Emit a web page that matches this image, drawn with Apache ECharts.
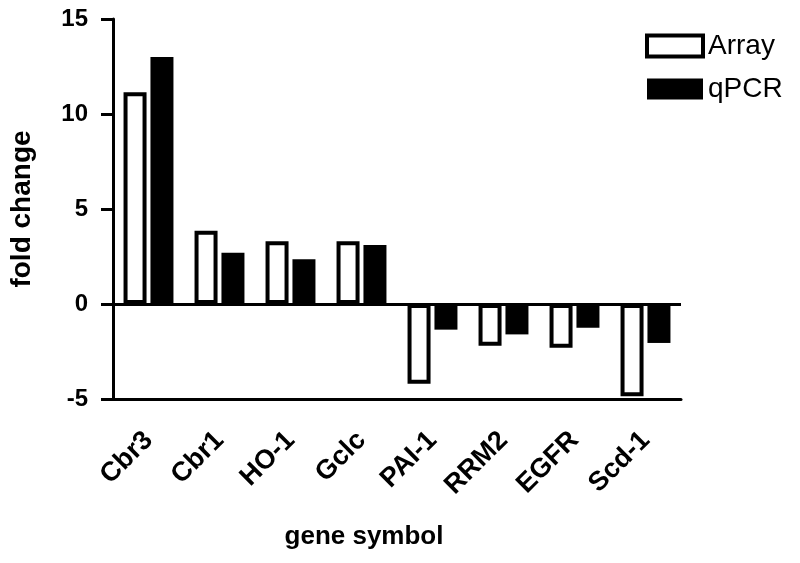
<!DOCTYPE html>
<html>
<head>
<meta charset="utf-8">
<script src="https://cdn.jsdelivr.net/npm/echarts@6/dist/echarts.min.js"></script>
<style>html,body{margin:0;padding:0;background:#fff}#c{width:800px;height:563px}</style>
</head>
<body>
<div id="c"></div>
<script>
const categories = ['Cbr3','Cbr1','HO-1','Gclc','PAI-1','RRM2','EGFR','Scd-1'];
const arrayValues = [11.15, 3.85, 3.3, 3.3, -4.2, -2.2, -2.3, -4.85];
const qpcrValues = [13.0, 2.7, 2.35, 3.1, -1.35, -1.6, -1.25, -2.05];
const yTicks = [-5, 0, 5, 10, 15];

const FONT = '"Liberation Sans", Arial, Helvetica, sans-serif';
const chart = echarts.init(document.getElementById('c'));
chart.setOption({
  animation: false,
  backgroundColor: '#fff',
  textStyle: { fontFamily: FONT },
  grid: { left: 112, right: 119, top: 19, bottom: 164 },
  legend: {
    orient: 'vertical', left: 645, top: 32, padding: 0, itemWidth: 56, itemHeight: 21, itemGap: 15,
    icon: 'rect',
    textStyle: { fontSize: 28, color: '#000', fontFamily: FONT },
    data: [
      { name: 'Array', itemStyle: { color: '#fff', borderColor: '#000', borderWidth: 4 } },
      { name: 'qPCR', itemStyle: { color: '#000', borderColor: '#000', borderWidth: 0 } }
    ]
  },
  title: {
    text: 'gene symbol', left: 359, top: 519, textAlign: 'center',
    textStyle: { fontSize: 26, fontWeight: 'bold', color: '#000', fontFamily: FONT }
  },
  xAxis: {
    type: 'category', data: categories,
    axisLine: { onZero: false, lineStyle: { color: '#000', width: 3 } },
    axisTick: { alignWithLabel: true, length: 10, lineStyle: { color: '#000', width: 3 } },
    axisLabel: { rotate: 45, fontSize: 27, fontWeight: 'bold', color: '#000', margin: 37, interval: 0, fontFamily: FONT }
  },
  yAxis: {
    type: 'value', min: yTicks[0], max: yTicks[yTicks.length-1], interval: 5,
    name: 'fold change', nameLocation: 'middle', nameGap: 77,
    nameTextStyle: { fontSize: 28, fontWeight: 'bold', color: '#000', fontFamily: FONT },
    axisLine: { show: true, lineStyle: { color: '#000', width: 3 } },
    axisTick: { show: true, length: 12, lineStyle: { color: '#000', width: 3 } },
    axisLabel: { fontSize: 24, fontWeight: 'bold', color: '#000', margin: 25, fontFamily: FONT },
    splitLine: { show: false }
  },
  series: [
    {
      name: 'Array', type: 'bar', data: arrayValues, barWidth: 23, barGap: '17%',
      itemStyle: { color: '#fff', borderColor: '#000', borderWidth: 4 },
      markLine: {
        silent: true, symbol: 'none', label: { show: false },
        lineStyle: { color: '#000', width: 3, type: 'solid' },
        data: [{ yAxis: 0 }]
      }
    },
    {
      name: 'qPCR', type: 'bar', data: qpcrValues, barWidth: 23,
      itemStyle: { color: '#000', borderWidth: 0 }
    }
  ]
});
</script>
</body>
</html>
